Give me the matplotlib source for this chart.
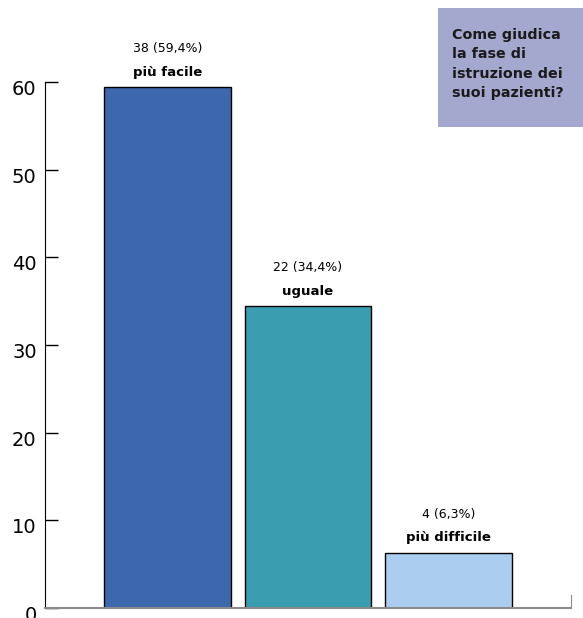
import numpy as np
import matplotlib.pyplot as plt
import matplotlib.transforms as mtransforms
from matplotlib.patches import Rectangle

categorie = ['più facile', 'uguale', 'più difficile']
conteggi = [38, 22, 4]
percentuali = [59.4, 34.4, 6.3]
colori = ['#3d68ad', '#3a9db0', '#abcdef']
yticks = [0, 10, 20, 30, 40, 50, 60]
domanda = 'Come giudica\nla fase di\nistruzione dei\nsuoi pazienti?'

fig = plt.figure(figsize=(5.83, 6.18), dpi=100)
ax = fig.add_axes([0.0772, 0.0162, 0.9018, 0.8511])

x = np.arange(len(categorie))
ax.bar(x, percentuali, width=0.9, color=colori, edgecolor='black', linewidth=1)

for xi, n, p, lab in zip(x, conteggi, percentuali, categorie):
    ax.annotate('{} ({}%)'.format(n, str(p).replace('.', ',')), (xi, p),
                xytext=(0, 23), textcoords='offset points', ha='center', va='bottom',
                fontsize=9, annotation_clip=False)
    ax.annotate(lab, (xi, p), xytext=(0, 6), textcoords='offset points',
                ha='center', va='bottom', fontsize=9.5, fontweight='bold',
                annotation_clip=False)

ax.set_xlim(-0.87, 2.87)
ax.set_ylim(0, 60)
ax.set_yticks(yticks)
ax.set_xticks([])
ax.tick_params(axis='y', direction='in', length=9, width=1, labelsize=14, pad=6)
# labels sit a bit lower than their ticks in the original
off = mtransforms.ScaledTranslation(0, -4 / 72, fig.dpi_scale_trans)
for t in ax.get_yticklabels():
    t.set_transform(t.get_transform() + off)

ax.spines['top'].set_visible(False)
ax.spines['left'].set_color('black')
ax.spines['bottom'].set_color('#8a8a8a')
ax.spines['bottom'].set_linewidth(1.5)
ax.spines['right'].set_color('#8a8a8a')
ax.spines['right'].set_bounds(0, 1.5)

fig.patches.append(Rectangle((0.7513, 0.7945), 0.2487, 0.1925, transform=fig.transFigure,
                             facecolor='#a4a8cf', edgecolor='none'))
fig.text(0.7753, 0.955, domanda, ha='left', va='top', fontsize=10.3, fontweight='bold',
         color='#1a1a1a', linespacing=1.5)

fig.savefig('out.png', dpi=100)
